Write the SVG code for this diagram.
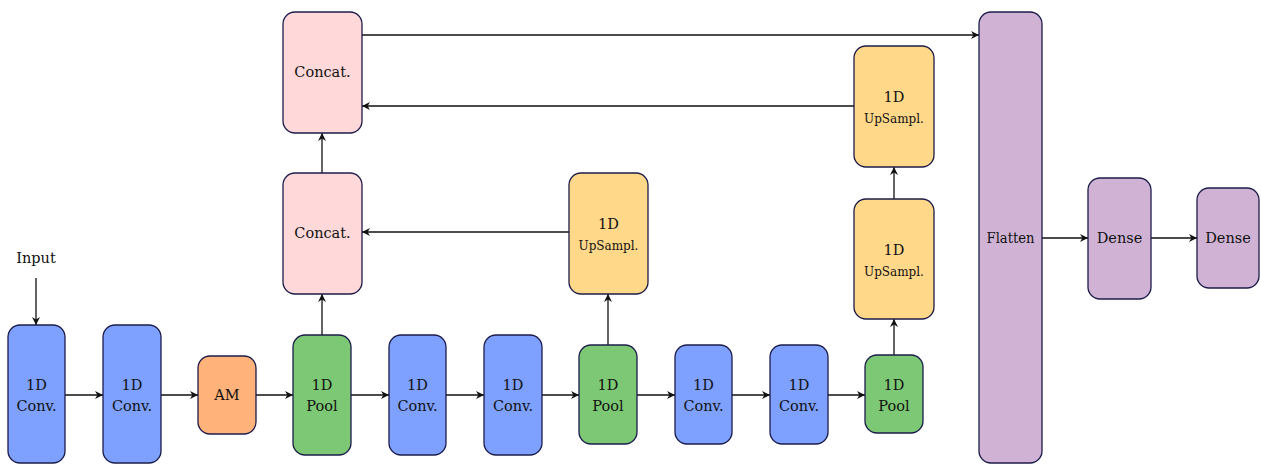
<svg xmlns="http://www.w3.org/2000/svg" width="1261" height="464" viewBox="0 0 1261 464">
  <defs>
    <marker id="arrow" viewBox="0 0 10 10" refX="10" refY="5" markerWidth="8" markerHeight="8" markerUnits="userSpaceOnUse" orient="auto">
      <path d="M0,0 L10,5 L0,10 L3,5 z" fill="#111"/>
    </marker>
  </defs>
  <style>
    .box { stroke: #1c1c4a; stroke-width: 1.3; }
    .conv { fill: #7ea1ff; }
    .am { fill: #ffb27a; }
    .pool { fill: #7dc874; }
    .cat { fill: #ffd9d9; }
    .up { fill: #ffd88a; }
    .fc { fill: #d0b3d4; }
    text { font-family: "DejaVu Serif", serif; font-size: 14.5px; fill: #111; text-anchor: middle; }
    .small { font-size: 12px; }
    .edge { stroke: #111; stroke-width: 1.3; fill: none; marker-end: url(#arrow); }
  </style>
  <rect width="1261" height="464" fill="#ffffff"/>

  <!-- connectors -->
  <g id="edges">
    <line class="edge" x1="36" y1="278" x2="36" y2="325"/>
    <line class="edge" x1="65" y1="395" x2="103" y2="395"/>
    <line class="edge" x1="161" y1="395" x2="198" y2="395"/>
    <line class="edge" x1="256" y1="395" x2="293" y2="395"/>
    <line class="edge" x1="351" y1="395" x2="389" y2="395"/>
    <line class="edge" x1="446" y1="395" x2="484" y2="395"/>
    <line class="edge" x1="542" y1="395" x2="579" y2="395"/>
    <line class="edge" x1="637" y1="395" x2="675" y2="395"/>
    <line class="edge" x1="732" y1="395" x2="770" y2="395"/>
    <line class="edge" x1="828" y1="395" x2="865" y2="395"/>
    <line class="edge" x1="322" y1="335" x2="322" y2="294"/>
    <line class="edge" x1="608" y1="345" x2="608" y2="294"/>
    <line class="edge" x1="894" y1="355" x2="894" y2="319"/>
    <line class="edge" x1="894" y1="199" x2="894" y2="167"/>
    <line class="edge" x1="569" y1="232" x2="362" y2="232"/>
    <line class="edge" x1="322" y1="173" x2="322" y2="133"/>
    <line class="edge" x1="854" y1="106" x2="362" y2="106"/>
    <line class="edge" x1="362" y1="35" x2="979" y2="35"/>
    <line class="edge" x1="1042" y1="238" x2="1088" y2="238"/>
    <line class="edge" x1="1151" y1="238" x2="1197" y2="238"/>
  </g>

  <text x="36" y="263">Input</text>

  <g id="conv1"><rect class="box conv" x="8" y="325" width="57" height="138" rx="12"/><text x="36.5" y="390">1D</text><text x="36.5" y="411">Conv.</text></g>
  <g id="conv2"><rect class="box conv" x="103" y="325" width="58" height="138" rx="12"/><text x="132" y="390">1D</text><text x="132" y="411">Conv.</text></g>
  <g id="am"><rect class="box am" x="198" y="356" width="58" height="78" rx="12"/><text x="227" y="400">AM</text></g>
  <g id="pool1"><rect class="box pool" x="293" y="335" width="58" height="120" rx="12"/><text x="322" y="390">1D</text><text x="322" y="411">Pool</text></g>
  <g id="conv3"><rect class="box conv" x="389" y="335" width="57" height="120" rx="12"/><text x="417.5" y="390">1D</text><text x="417.5" y="411">Conv.</text></g>
  <g id="conv4"><rect class="box conv" x="484" y="335" width="58" height="120" rx="12"/><text x="513" y="390">1D</text><text x="513" y="411">Conv.</text></g>
  <g id="pool2"><rect class="box pool" x="579" y="345" width="58" height="99" rx="12"/><text x="608" y="390">1D</text><text x="608" y="411">Pool</text></g>
  <g id="conv5"><rect class="box conv" x="675" y="345" width="57" height="99" rx="12"/><text x="703.5" y="390">1D</text><text x="703.5" y="411">Conv.</text></g>
  <g id="conv6"><rect class="box conv" x="770" y="345" width="58" height="99" rx="12"/><text x="799" y="390">1D</text><text x="799" y="411">Conv.</text></g>
  <g id="pool3"><rect class="box pool" x="865" y="355" width="58" height="78" rx="12"/><text x="894" y="390">1D</text><text x="894" y="411">Pool</text></g>

  <g id="concat1"><rect class="box cat" x="283" y="173" width="79" height="121" rx="12"/><text x="322.5" y="238">Concat.</text></g>
  <g id="concat2"><rect class="box cat" x="283" y="12" width="79" height="121" rx="12"/><text x="322.5" y="77">Concat.</text></g>

  <g id="upsample1"><rect class="box up" x="569" y="173" width="79" height="121" rx="12"/><text x="608.5" y="229">1D</text><text class="small" x="608.5" y="250">UpSampl.</text></g>
  <g id="upsample2"><rect class="box up" x="854" y="199" width="80" height="120" rx="12"/><text x="894" y="255">1D</text><text class="small" x="894" y="276">UpSampl.</text></g>
  <g id="upsample3"><rect class="box up" x="854" y="46" width="80" height="121" rx="12"/><text x="894" y="102">1D</text><text class="small" x="894" y="123">UpSampl.</text></g>

  <g id="flatten"><rect class="box fc" x="979" y="12" width="63" height="451" rx="12"/><text x="1010.5" y="243" textLength="48" lengthAdjust="spacingAndGlyphs">Flatten</text></g>
  <g id="dense1"><rect class="box fc" x="1088" y="178" width="63" height="121" rx="12"/><text x="1119.5" y="243">Dense</text></g>
  <g id="dense2"><rect class="box fc" x="1197" y="188" width="62" height="100" rx="12"/><text x="1228" y="243">Dense</text></g>
</svg>
